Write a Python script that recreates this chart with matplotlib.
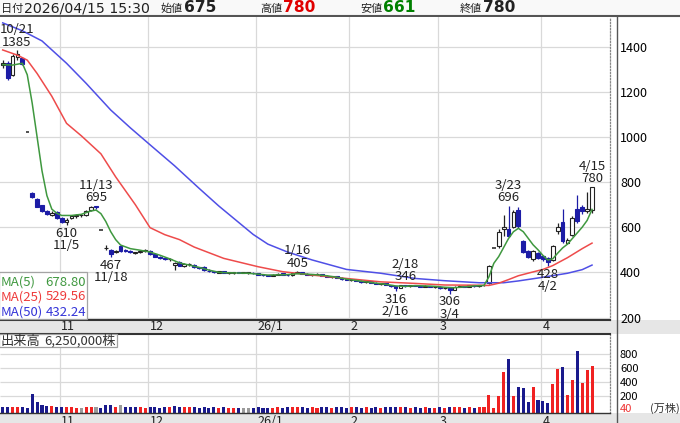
import numpy as np
import matplotlib
matplotlib.use('Agg')
import matplotlib.pyplot as plt
from matplotlib.patches import Rectangle

plt.rcParams['font.family'] = ['Noto Sans CJK JP', 'DejaVu Sans']

nan = np.nan
# ---------------- data (trading-day index 0 = 2025/10/16 ... 120 = 2026/04/15)
OPEN = [1320, 1326, 1274, 1352, 1350, nan, 750, 725, 698, 672,
        655, 668, 640, 625, 640, 648, 652, 652, 675, 692,
        nan, 508, 500, 488, 515, 497, 495, 484, 488, 495,
        495, 482, 470, 464, 458, 432, 448, 428, 436, 432,
        422, 425, 408, 405, 398, 404, 396, 396, 401, 398,
        398, 397, 396, 390, 387, 385, 390, 396, 390, 388,
        397, 400, 394, 388, 392, 392, 386, 380, 382, 376,
        370, 366, 368, 362, 357, 360, 354, 350, 352, 344,
        338, 332, 342, 340, 342, 341, 337, 340, 335, 337,
        330, 330, 322, 336, 340, 336, 342, 338, 344, 355,
        nan, 515, 592, 592, 602, 676, 538, 495, 458, 485,
        472, 465, 455, 585, 624, 530, 565, 682, 690, 672, 675]
HIGH = [1340, 1336, 1365, 1385, 1356, nan, 755, 728, 700, 676,
        670, 672, 645, 640, 655, 658, 658, 675, 692, 695,
        nan, 520, 505, 500, 522, 502, 498, 492, 500, 505,
        498, 485, 472, 468, 465, 445, 450, 440, 442, 435,
        424, 426, 414, 408, 406, 405, 402, 403, 403, 400,
        401, 400, 398, 392, 390, 392, 396, 398, 392, 400,
        405, 402, 396, 394, 396, 394, 388, 384, 383, 378,
        372, 370, 369, 364, 362, 361, 358, 354, 353, 346,
        340, 344, 346, 344, 345, 343, 342, 341, 339, 338,
        334, 332, 338, 342, 341, 344, 344, 346, 348, 432,
        nan, 590, 654, 696, 675, 690, 545, 500, 500, 490,
        478, 470, 522, 620, 680, 552, 648, 742, 700, 755, 780]
LOW = [1305, 1250, 1268, 1340, 1318, nan, 730, 688, 668, 655,
       650, 635, 620, 610, 635, 642, 645, 648, 670, 682,
       nan, 500, 467, 485, 492, 490, 486, 480, 485, 492,
       478, 468, 460, 455, 450, 410, 428, 425, 430, 420,
       414, 408, 402, 398, 396, 396, 394, 394, 396, 395,
       394, 393, 388, 385, 382, 384, 388, 388, 385, 386,
       395, 392, 388, 386, 389, 384, 378, 376, 374, 368,
       364, 360, 360, 355, 354, 352, 348, 344, 342, 336,
       316, 330, 336, 336, 338, 335, 334, 333, 332, 328,
       325, 306, 320, 333, 333, 335, 336, 337, 340, 350,
       nan, 510, 560, 555, 598, 598, 485, 462, 452, 460,
       452, 428, 450, 570, 530, 525, 560, 620, 660, 665, 661]
CLOSE = [1328, 1262, 1358, 1368, 1323, nan, 735, 690, 673, 660,
         665, 640, 625, 632, 650, 652, 652, 672, 688, 688,
         nan, 508, 482, 495, 495, 493, 490, 488, 496, 500,
         482, 470, 462, 458, 460, 442, 430, 436, 438, 422,
         418, 410, 405, 400, 404, 398, 400, 401, 398, 398,
         398, 396, 390, 387, 385, 390, 394, 390, 388, 397,
         400, 394, 390, 392, 393, 386, 380, 382, 376, 370,
         366, 368, 362, 357, 360, 354, 350, 352, 344, 338,
         332, 342, 340, 342, 341, 337, 340, 335, 337, 330,
         332, 322, 336, 340, 336, 342, 338, 344, 346, 428,
         nan, 580, 600, 562, 668, 604, 490, 470, 493, 465,
         458, 445, 518, 600, 538, 545, 640, 628, 672, 680, 780]
# days with only a limit quote (no trades)
QUOTE_IDX = [5, 20, 100]
QUOTE_PRICE = [1023, 588, 508]

# volume (万株)
VOLUME = [40, 42, 40, 45, 40, 30, 236, 117, 70, 56,
          56, 45, 42, 40, 40, 38, 36, 40, 42, 40,
          35, 70, 68, 45, 80, 45, 42, 40, 40, 38,
          40, 40, 38, 40, 40, 55, 45, 42, 40, 40,
          38, 42, 38, 40, 38, 40, 36, 38, 36, 34,
          34, 36, 40, 38, 36, 38, 40, 38, 40, 52,
          45, 40, 38, 40, 38, 40, 40, 38, 40, 40,
          38, 40, 40, 38, 40, 38, 40, 38, 40, 42,
          45, 42, 40, 38, 40, 38, 40, 38, 36, 40,
          38, 45, 42, 40, 38, 40, 38, 40, 42, 217,
          30, 203, 541, 727, 207, 327, 313, 113, 327, 146,
          131, 99, 374, 584, 621, 217, 431, 850, 384, 574, 625]
FIRST_DIR = 'd'

# moving averages read at sample days
MA5_IDX = [0, 2, 4, 5, 6, 7, 8, 9, 10, 11, 12, 14, 16, 18, 19, 20, 21, 22, 23, 24,
           26, 28, 30, 32, 34, 36, 38, 40, 42, 44, 46, 48, 50, 52, 54, 56, 58, 60,
           62, 64, 66, 68, 70, 72, 74, 76, 78, 80, 82, 84, 86, 88, 90, 92, 94, 96,
           98, 99, 100, 101, 102, 103, 104, 105, 106, 107, 108, 109, 110, 111, 112,
           113, 114, 115, 116, 117, 118, 119, 120]
MA5_VAL = [1320, 1318, 1326, 1275, 1150, 1000, 850, 740, 680, 662, 652, 652, 657, 672, 676,
           660, 625, 580, 545, 521, 505, 498, 490, 476, 460, 442, 432, 422, 410, 400,
           398, 397, 396, 392, 388, 389, 390, 394, 392, 389, 385, 378, 370, 364, 358,
           352, 347, 340, 338, 341, 340, 338, 334, 332, 336, 340, 342, 380, 440, 470,
           510, 550, 580, 595, 580, 551, 522, 500, 475, 455, 460, 485, 508, 525, 550,
           575, 600, 630, 678.80]
MA25_IDX = [0, 3, 5, 7, 10, 13, 16, 20, 23, 27, 30, 33, 36, 39, 45, 52, 57, 63, 70,
            77, 84, 90, 97, 99, 101, 103, 105, 108, 110, 112, 115, 118, 120]
MA25_VAL = [1385, 1362, 1340, 1281, 1180, 1060, 1005, 925, 823, 700, 598, 567, 545,
            512, 462, 425, 403, 388, 373, 358, 351, 344, 343, 342, 352, 368, 385,
            402, 413, 430, 465, 505, 529.56]
MA50_IDX = [0, 4, 8, 13, 17, 22, 26, 30, 35, 38, 40, 44, 48, 51, 54, 58, 63, 70,
            77, 84, 90, 97, 102, 105, 109, 115, 118, 120]
MA50_VAL = [1505, 1470, 1425, 1326, 1237, 1119, 1040, 965, 872, 812, 772, 694, 622,
            568, 525, 490, 455, 413, 396, 373, 363, 354, 354, 362, 375, 396, 412, 432.24]

# highs / lows labelled on the chart
ANNOT_IDX = [3, 13, 19, 22, 60, 80, 82, 91, 103, 111, 120]
ANNOT_DATE = ['10/21', '11/5', '11/13', '11/18', '1/16', '2/16', '2/18', '3/4',
              '3/23', '4/2', '4/15']
ANNOT_KIND = ['H', 'L', 'H', 'L', 'H', 'L', 'H', 'L', 'H', 'L', 'H']

MONTH_START = [12, 30, 52, 71, 89, 110]
MONTH_LABEL = ['11', '12', '26/1', '2', '3', '4']

PRICE_TICKS = [200, 400, 600, 800, 1000, 1200, 1400]
VOL_TICKS = [200, 400, 600, 800]

HEADER_DATE = ('日付', '2026/04/15 15:30')
HEADER_ITEMS = [('始値', '675'), ('高値', '780'), ('安値', '661'), ('終値', '780')]
MA_LAST = [678.80, 529.56, 432.24]
VOL_TITLE = ('出来高', '6,250,000株')

# ---------------- layout
W, H = 680, 423
fig = plt.figure(figsize=(6.8, 4.23), dpi=100)


def rect(x0, y0, x1, y1):
    return [x0 / W, 1 - y1 / H, (x1 - x0) / W, (y1 - y0) / H]


XMIN, XMAX = -0.55, 123.66
PLOT_R = 610


def px(i):
    return (i - XMIN) / (XMAX - XMIN) * PLOT_R


bg = fig.add_axes([0, 0, 1, 1], zorder=0)
bg.set_xlim(0, W); bg.set_ylim(H, 0); bg.axis('off')
bg.add_patch(Rectangle((0, 0), W, 16, facecolor='#f9f9f9', edgecolor='none'))
bg.add_patch(Rectangle((0, 320), W, 14, facecolor='#e6e6e6', edgecolor='none'))
bg.add_patch(Rectangle((0, 413), W, 10, facecolor='#e6e6e6', edgecolor='none'))
bg.plot([0, W], [16.3, 16.3], color='#555555', lw=1.5)
bg.plot([617, 617], [16.3, 423], color='#555555', lw=1.0)

GRID = '#d9d9d9'
grid_x = [m - 0.4 for m in MONTH_START]

# ---------------- price panel
ax = fig.add_axes(rect(0, 17, PLOT_R, 320), zorder=1)
ax.set_xlim(XMIN, XMAX)
ax.set_ylim(189, 1531)
for s in ['top', 'left']:
    ax.spines[s].set_visible(False)
ax.spines['bottom'].set_color('#333333'); ax.spines['bottom'].set_linewidth(1.5)
ax.spines['right'].set_color('#888888'); ax.spines['right'].set_linestyle((0, (1, 1.5)))
ax.spines['right'].set_linewidth(0.9)
ax.yaxis.tick_right()
ax.set_yticks(PRICE_TICKS)
ax.tick_params(axis='y', length=0, pad=7.2, labelsize=9)
ax.set_xticks(grid_x)
ax.tick_params(axis='x', length=0, labelbottom=False)
ax.grid(True, color=GRID, lw=0.9)
ax.set_axisbelow(True)

idx = np.arange(len(CLOSE))
O = np.array(OPEN, float); Hh = np.array(HIGH, float)
L = np.array(LOW, float); C = np.array(CLOSE, float)
valid = ~np.isnan(C)
up = (C >= O) & valid
dn = (C < O) & valid
UPC, DNC = '#222222', '#1c1ca6'

ax.vlines(idx[up], L[up], Hh[up], color=UPC, lw=0.9, zorder=2)
ax.vlines(idx[dn], L[dn], Hh[dn], color=DNC, lw=0.9, zorder=2)
body_lo = np.minimum(O, C)
body_h = np.maximum(np.abs(C - O), 2.0)
ax.bar(idx[up], body_h[up], bottom=body_lo[up], width=0.78, facecolor='white',
       edgecolor=UPC, lw=0.8, zorder=3)
ax.bar(idx[dn], body_h[dn], bottom=body_lo[dn], width=0.78, facecolor=DNC,
       edgecolor=DNC, lw=0.8, zorder=3)
ax.hlines(QUOTE_PRICE, np.array(QUOTE_IDX) - 0.35, np.array(QUOTE_IDX) + 0.35,
          color='#222222', lw=1.1, zorder=3)

ax.plot(MA50_IDX, MA50_VAL, color='#4f4fe6', lw=1.1, zorder=4)
ax.plot(MA25_IDX, MA25_VAL, color='#ee4b4b', lw=1.1, zorder=4)
ax.plot(MA5_IDX, MA5_VAL, color='#3f983f', lw=1.1, zorder=4)

dx = {3: -0.5}
for i, d, k in zip(ANNOT_IDX, ANNOT_DATE, ANNOT_KIND):
    if k == 'H':
        ax.annotate(f'{d}\n{int(HIGH[i])}', xy=(i, HIGH[i]), xytext=(dx.get(i, 0), 1.0),
                    textcoords='offset points', ha='center', va='bottom',
                    fontsize=9.5, linespacing=0.95, color='#222222', zorder=6,
                    annotation_clip=False)
    else:
        ax.annotate(f'{int(LOW[i])}\n{d}', xy=(i, LOW[i]), xytext=(dx.get(i, 0), -1.2),
                    textcoords='offset points', ha='center', va='top',
                    fontsize=9.5, linespacing=0.95, color='#222222', zorder=6,
                    annotation_clip=False)

# ---------------- volume panel
VFLOOR = -40
VTOP = VFLOOR + 79 / 0.07
av = fig.add_axes(rect(0, 334, PLOT_R, 413), zorder=1)
av.set_xlim(XMIN, XMAX)
av.set_ylim(VFLOOR, VTOP)
av.spines['left'].set_visible(False)
av.spines['top'].set_color('#333333'); av.spines['top'].set_linewidth(1.5)
av.spines['bottom'].set_color('#333333'); av.spines['bottom'].set_linewidth(1.0)
av.spines['right'].set_color('#888888'); av.spines['right'].set_linestyle((0, (1, 1.5)))
av.spines['right'].set_linewidth(0.9)
av.yaxis.tick_right()
av.set_yticks(VOL_TICKS)
av.tick_params(axis='y', length=0, pad=7.2, labelsize=8)
av.set_xticks([])
av.hlines(VOL_TICKS, XMIN, XMAX, color=GRID, lw=0.9, zorder=0)
av.vlines(grid_x, VFLOOR, VTOP, color=GRID, lw=0.9, zorder=0)

ref = np.where(valid, C, np.nan)
for qi, qp in zip(QUOTE_IDX, QUOTE_PRICE):
    ref[qi] = qp
cols = []
for i in range(len(VOLUME)):
    if i == 0:
        d = FIRST_DIR
    else:
        d = 'u' if ref[i] > ref[i - 1] else ('d' if ref[i] < ref[i - 1] else 'n')
    cols.append({'u': '#f02222', 'd': '#1a1a8c', 'n': '#9a9a9a'}[d])
av.bar(idx, np.array(VOLUME) - VFLOOR, bottom=VFLOOR, width=0.62, color=cols, zorder=2)

# ---------------- overlay texts
ov = fig.add_axes([0, 0, 1, 1], zorder=5)
ov.set_xlim(0, W); ov.set_ylim(H, 0); ov.axis('off'); ov.patch.set_alpha(0)

ov.text(1, 8.5, HEADER_DATE[0], fontsize=8, va='center', ha='left', color='#222222')
ov.text(24, 8, HEADER_DATE[1], fontsize=10.2, family='DejaVu Sans', va='center',
        ha='left', color='#222222')
hx = [161, 260, 360, 460]
vcol = ['#222222', '#e00000', '#008000', '#222222']
for (lab, val), x0, vc in zip(HEADER_ITEMS, hx, vcol):
    ov.text(x0, 8.5, lab, fontsize=8, va='center', ha='left', color='#222222')
    ov.text(x0 + 23, 8, val, fontsize=11.2, family='DejaVu Sans', fontweight='bold',
            va='center', ha='left', color=vc)

for g, lab in zip(grid_x, MONTH_LABEL):
    ov.text(px(g) + 1.5, 327, lab, fontsize=9, ha='left', va='center', color='#222222')
    ov.text(px(g) + 1.5, 421.5, lab, fontsize=9, ha='left', va='center', color='#222222')

# volume floor label (red) and unit
ov.text(620, 409.5, '40', fontsize=8, color='#ee3333', ha='left', va='center')
ov.text(650, 408.5, '(万株)', fontsize=8, color='#333333', ha='left', va='center')

# MA legend box
ov.add_patch(Rectangle((-1, 272.5), 88, 46.5, facecolor='white', edgecolor='#a0a0a0',
                       lw=0.9, alpha=0.95))
ma_names = ['MA(5)', 'MA(25)', 'MA(50)']
ma_cols = ['#3f983f', '#ee3b3b', '#3434d8']
for k, (nm, v, c) in enumerate(zip(ma_names, MA_LAST, ma_cols)):
    y = 282 + 15 * k
    ov.text(1, y, nm, fontsize=9.5, color=c, ha='left', va='center')
    ov.text(86, y, f'{v:.2f}', fontsize=9.5, color=c, ha='right', va='center')

# volume title box
ov.add_patch(Rectangle((-1, 334.5), 118, 13, facecolor='white', edgecolor='#a0a0a0', lw=0.9))
ov.text(1, 341, VOL_TITLE[0], fontsize=9.5, color='#333333', ha='left', va='center')
ov.text(116, 341, VOL_TITLE[1], fontsize=9.5, color='#333333', ha='right', va='center')

fig.savefig('out.png', dpi=100)
